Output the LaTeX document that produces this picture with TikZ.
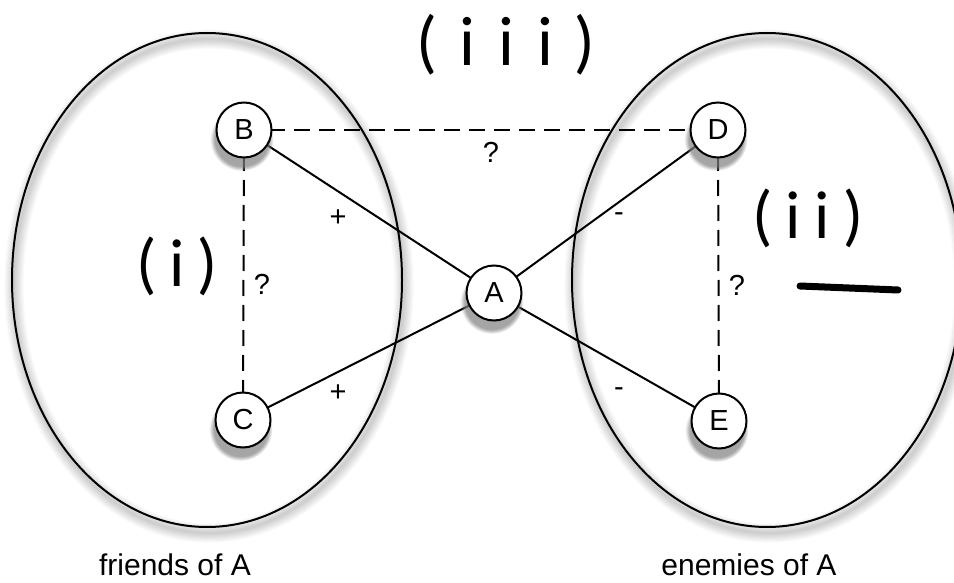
\documentclass[tikz,border=0pt]{standalone}
\usepackage{fontspec}
\setmainfont{Liberation Sans}
\newfontfamily\handfont[LetterSpace=22]{Lato}
\usetikzlibrary{shadows}
\begin{document}
\begin{tikzpicture}[x=1pt,y=-1pt,
  vertex/.style={circle,draw,line width=2pt,fill=white,minimum size=55pt,inner sep=0pt,
    font=\fontsize{29}{32}\selectfont,
    circular drop shadow={shadow xshift=-2pt,shadow yshift=-8pt,shadow scale=1.15,opacity=0.7}},
  edgeline/.style={line width=2pt},
  dashedge/.style={line width=2pt,dash pattern=on 16pt off 9pt},
  lab/.style={font=\fontsize{29}{32}\selectfont,inner sep=0pt},
  grouplab/.style={font=\fontsize{30}{34}\selectfont,inner sep=0pt},
  group/.style={line width=2pt},
  halo/.style={black,opacity=0.025},
  hand/.style={font=\handfont\fontsize{64}{70}\selectfont,inner sep=0pt}
]
\useasboundingbox (0,0) rectangle (954,583);
\fill[white] (0,0) rectangle (954,583);

% soft shadows of the two groups
\foreach \k in {1,...,8}{
  \draw[halo,line width=2.4*\k pt] (209,286) ellipse [x radius=195pt,y radius=247pt];
  \draw[halo,line width=2.4*\k pt] (769,286) ellipse [x radius=195pt,y radius=247pt];
}
\draw[group] (207,280) ellipse [x radius=195pt,y radius=247pt];
\draw[group] (767,280) ellipse [x radius=195pt,y radius=247pt];

% vertex positions
\coordinate (b0) at (244,130);
\coordinate (c0) at (243,420);
\coordinate (a0) at (494,293);
\coordinate (d0) at (718,130);
\coordinate (e0) at (719,421);

% connectors (drawn under the vertices)
\draw[edgeline] (b0) -- (a0);
\draw[edgeline] (c0) -- (a0);
\draw[edgeline] (a0) -- (d0);
\draw[edgeline] (a0) -- (e0);
\draw[dashedge] (b0) -- (d0);
\draw[dashedge] (b0) -- (c0);
\draw[dashedge] (d0) -- (e0);

\node[vertex] (B) at (b0) {B};
\node[vertex] (C) at (c0) {C};
\node[vertex] (A) at (a0) {A};
\node[vertex] (D) at (d0) {D};
\node[vertex] (E) at (e0) {E};

% edge labels
\node[lab] (qBD) at (491,152) {?};
\node[lab] (qBC) at (262,284) {?};
\node[lab] (qDE) at (737,285) {?};
\node[lab] (p1) at (338,218) {+};
\node[lab] (p2) at (338,393) {+};
\node[lab] (m1) at (619,217) {-};
\node[lab] (m2) at (619,392) {-};

% group labels
\node[grouplab] (fr) at (175,565) {friends of A};
\node[grouplab] (en) at (749,565) {enemies of A};

% handwritten annotations
\node[hand,font=\handfont\fontsize{66}{72}\selectfont\addfontfeatures{LetterSpace=35}] (h3) at (506,45) {(iii)};
\node[hand] (h1) at (177,266) {(i)};
\node[hand] (h2) at (808,218) {(ii)};
\coordinate (u1) at (800,286);
\coordinate (u2) at (898,290);
\draw[line width=7pt,line cap=round] (u1) -- (u2);
\end{tikzpicture}
\end{document}
